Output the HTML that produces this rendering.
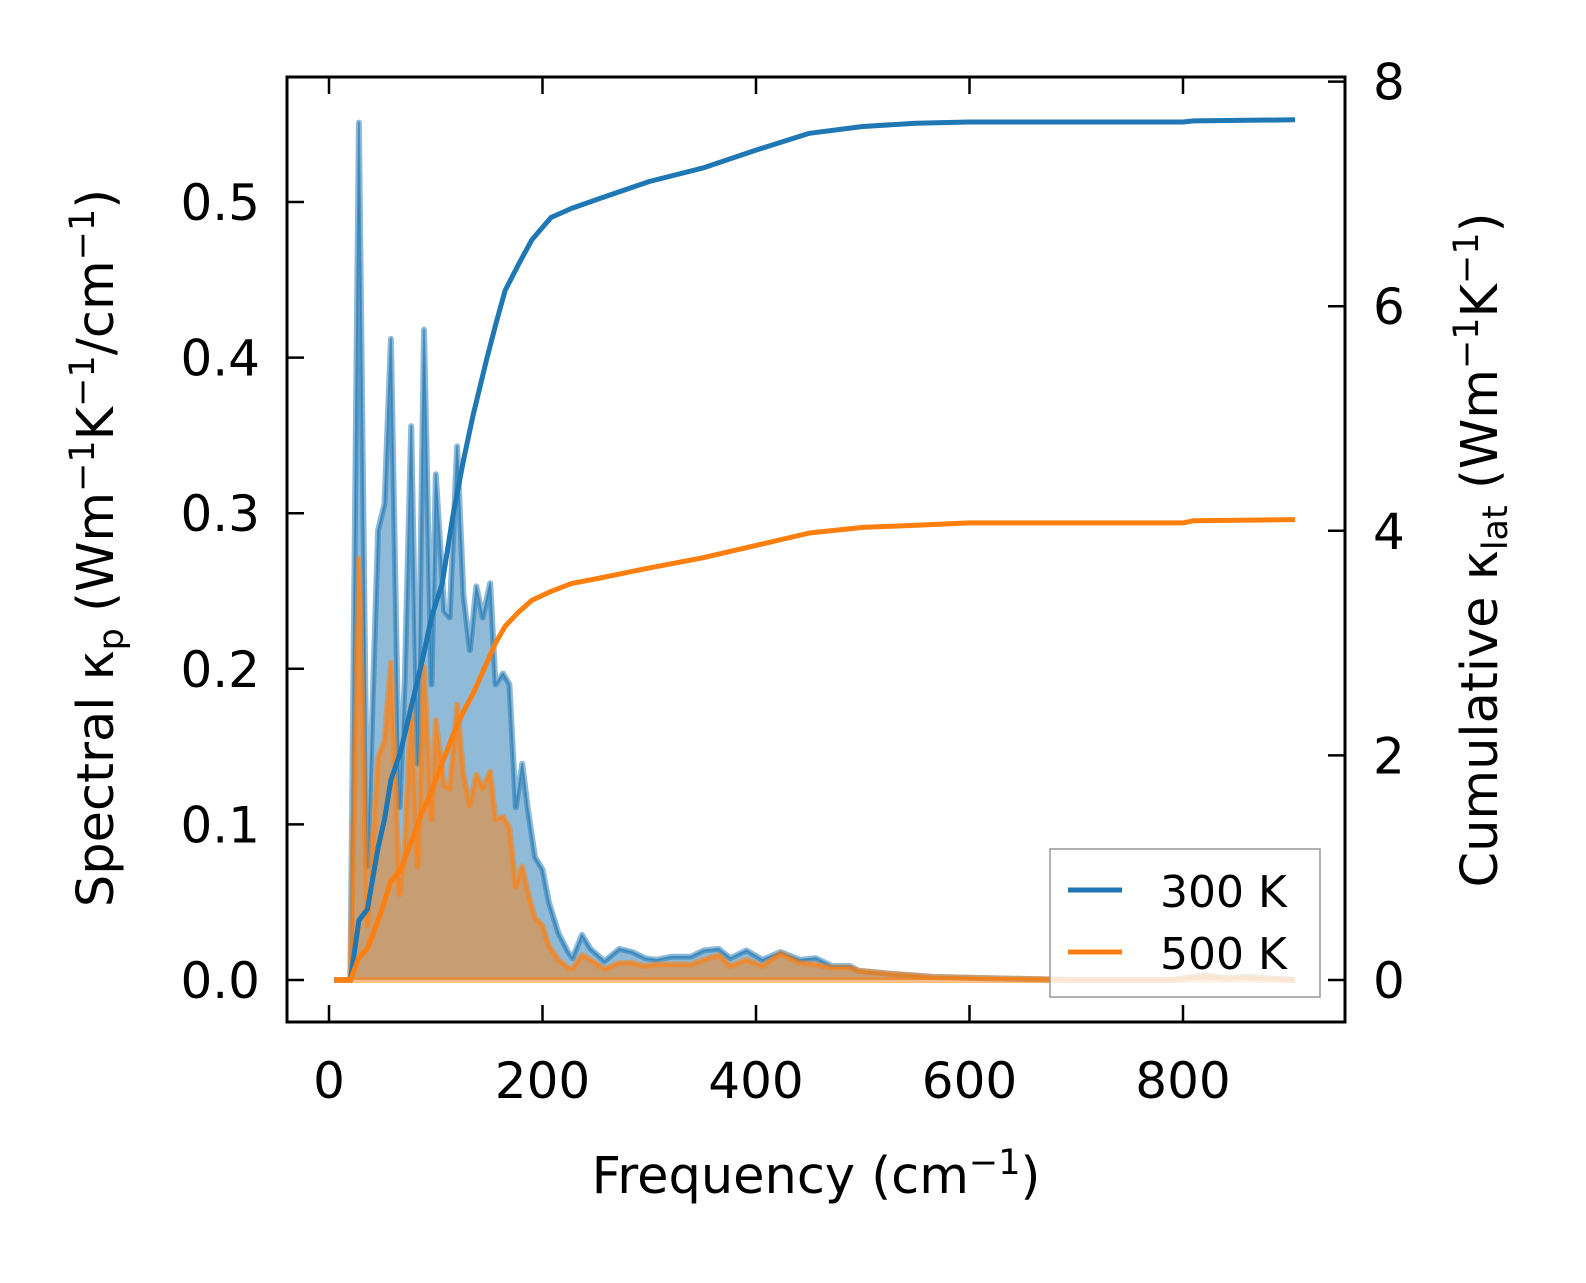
<!DOCTYPE html>
<html><head><meta charset="utf-8">
<style>
html,body{margin:0;padding:0;background:#fff;}
svg{display:block;}
text{font-family:"DejaVu Sans","Liberation Sans",sans-serif;fill:#000;}
</style></head>
<body>
<svg id="chart" width="1586" height="1283" viewBox="0 0 1586 1283" xmlns="http://www.w3.org/2000/svg">
<rect x="0" y="0" width="1586" height="1283" fill="#fff"/>
<g id="marks"></g>
<g id="axes"></g>
</svg>
<script>
const freq300 = [5,20,28,36,46,52,58,66,71,77,83,89,96,100,108,113,120,126,132,138,144,151,156,163,169,175,181,186,193,200,206,215,224,228,237,245,258,272,284,296,307,321,339,351,365,376,391,406,423,441,456,471,488,496,526,565,624,700,790,820,840,860,880,905];
const spec300 = [0,0,0.551,0.073,0.289,0.306,0.412,0.111,0.194,0.356,0.139,0.418,0.190,0.325,0.237,0.233,0.343,0.247,0.212,0.253,0.233,0.255,0.190,0.197,0.190,0.111,0.139,0.111,0.079,0.071,0.050,0.030,0.018,0.014,0.029,0.020,0.012,0.020,0.018,0.014,0.013,0.015,0.015,0.019,0.020,0.014,0.019,0.013,0.018,0.013,0.014,0.009,0.009,0.006,0.004,0.002,0.001,0,0,0.003,0.001,0.002,0.001,0];
const spec500 = [0,0,0.271,0.035,0.143,0.154,0.204,0.055,0.085,0.176,0.073,0.201,0.103,0.167,0.125,0.123,0.177,0.132,0.112,0.132,0.123,0.134,0.103,0.105,0.098,0.060,0.073,0.057,0.040,0.035,0.022,0.013,0.008,0.007,0.016,0.013,0.007,0.011,0.011,0.009,0.010,0.010,0.010,0.013,0.016,0.009,0.013,0.009,0.017,0.011,0.010,0.008,0.008,0.006,0.004,0.002,0.001,0,0,0.003,0.001,0.002,0.001,0];
const freqCum = [5,20,28,36,46,52,58,67,77,87,96,106,116,126,135,148,156,165,178,190,208,227,254,300,350,400,450,500,550,600,700,800,810,905];
const cum300 = [0,0,0.53,0.63,1.18,1.43,1.78,2.03,2.43,2.83,3.23,3.53,4.13,4.63,5.03,5.54,5.83,6.14,6.38,6.59,6.79,6.87,6.96,7.11,7.23,7.39,7.54,7.60,7.63,7.64,7.64,7.64,7.65,7.66];
const cum500 = [0,0,0.20,0.28,0.53,0.70,0.88,0.98,1.23,1.49,1.68,1.93,2.18,2.39,2.55,2.83,3.00,3.15,3.28,3.38,3.46,3.53,3.58,3.67,3.76,3.87,3.98,4.03,4.05,4.07,4.07,4.07,4.09,4.10];
const xTicks = [0,200,400,600,800];
const yLeftTicks = [0.0,0.1,0.2,0.3,0.4,0.5];
const yRightTicks = [0,2,4,6,8];

const L=287,R=1345,T=77,B=1022;
const X = f => 329 + f*1.0675;
const YL = v => 980 - v*1556;
const YR = v => 980 - v*112.3;
const NS='http://www.w3.org/2000/svg';
const marks=document.getElementById('marks'), axes=document.getElementById('axes');
function mk(tag,attrs,parent){const e=document.createElementNS(NS,tag);for(const k in attrs)e.setAttribute(k,attrs[k]);parent.appendChild(e);return e;}
function linePts(xs,ys,fy){return xs.map((f,i)=>X(f).toFixed(1)+','+fy(ys[i]).toFixed(1)).join(' ');}

function spectral(vals,color,name){
  const pts=linePts(freq300,vals,YL);
  const poly=mk('polygon',{points:X(freq300[0])+','+YL(0)+' '+pts+' '+X(freq300[freq300.length-1])+','+YL(0),fill:color,'fill-opacity':0.5},marks);
  
  
  const l1=mk('polyline',{points:pts,fill:'none',stroke:color,'stroke-opacity':0.5,'stroke-width':6,'stroke-linejoin':'round'},marks);
  
  
  const l2=mk('polyline',{points:pts,fill:'none',stroke:color,'stroke-opacity':0.6,'stroke-width':2,'stroke-linejoin':'round'},marks);
  
  
}
spectral(spec300,'#1f77b4','spectral-300k');
spectral(spec500,'#ff7f0e','spectral-500k');
const base=mk('line',{x1:X(5),x2:X(905),y1:YL(0),y2:YL(0),stroke:'#ff7f0e','stroke-opacity':0.5,'stroke-width':6},marks);



const c3=mk('polyline',{points:linePts(freqCum,cum300,YR),fill:'none',stroke:'#1f77b4','stroke-width':5,'stroke-linejoin':'round'},marks);


const c5=mk('polyline',{points:linePts(freqCum,cum500,YR),fill:'none',stroke:'#ff7f0e','stroke-width':5,'stroke-linejoin':'round'},marks);



const fr=mk('rect',{x:L,y:T,width:R-L,height:B-T,fill:'none',stroke:'#000','stroke-width':3},axes);


xTicks.forEach(t=>{
  const x=X(t);
  const a=mk('line',{x1:x,x2:x,y1:B,y2:B-17,stroke:'#000','stroke-width':2.5},axes);
  
  
  const b=mk('line',{x1:x,x2:x,y1:T,y2:T+17,stroke:'#000','stroke-width':2.5},axes);
  
  
  const tx=mk('text',{x:x,y:1098,'font-size':50,'text-anchor':'middle'},axes);
  tx.textContent=t;
  
  
});
yLeftTicks.forEach(t=>{
  const y=YL(t);
  const a=mk('line',{x1:L,x2:L+17,y1:y,y2:y,stroke:'#000','stroke-width':2.5},axes);
  
  
  const tx=mk('text',{x:260,y:y+18,'font-size':50,'text-anchor':'end'},axes);
  tx.textContent=t.toFixed(1);
  
  
});
yRightTicks.forEach(t=>{
  const y=YR(t);
  const a=mk('line',{x1:R,x2:R-17,y1:y,y2:y,stroke:'#000','stroke-width':2.5},axes);
  
  
  const tx=mk('text',{x:1373,y:y+18,'font-size':50,'text-anchor':'start'},axes);
  tx.textContent=t;
  
  
});
</script>
<svg style="position:absolute;left:0;top:0" width="1586" height="1283">
<text x="816" y="1193" font-size="51" text-anchor="middle">Frequency (cm<tspan dy="-19" font-size="35">−1</tspan><tspan dy="19">)</tspan></text>
<text transform="translate(113,548) rotate(-90)" font-size="51" text-anchor="middle">Spectral κ<tspan dy="10" font-size="35">p</tspan><tspan dy="-10"> (Wm</tspan><tspan dy="-19" font-size="35">−1</tspan><tspan dy="19">K</tspan><tspan dy="-19" font-size="35">−1</tspan><tspan dy="19">/cm</tspan><tspan dy="-19" font-size="35">−1</tspan><tspan dy="19">)</tspan></text>
<text transform="translate(1497,550) rotate(-90)" font-size="51" text-anchor="middle">Cumulative κ<tspan dy="10" font-size="35">lat</tspan><tspan dy="-10"> (Wm</tspan><tspan dy="-19" font-size="35">−1</tspan><tspan dy="19">K</tspan><tspan dy="-19" font-size="35">−1</tspan><tspan dy="19">)</tspan></text>
<g>
<rect x="1050" y="849" width="270" height="148" fill="#fff" fill-opacity="0.8" stroke="#999" stroke-width="1.5"/>
<line x1="1068" x2="1122" y1="890" y2="890" stroke="#1f77b4" stroke-width="5"/>
<text x="1160" y="907" font-size="44">300 K</text>
<line x1="1068" x2="1122" y1="952" y2="952" stroke="#ff7f0e" stroke-width="5"/>
<text x="1160" y="969" font-size="44">500 K</text>
</g>
</svg>
</body></html>
